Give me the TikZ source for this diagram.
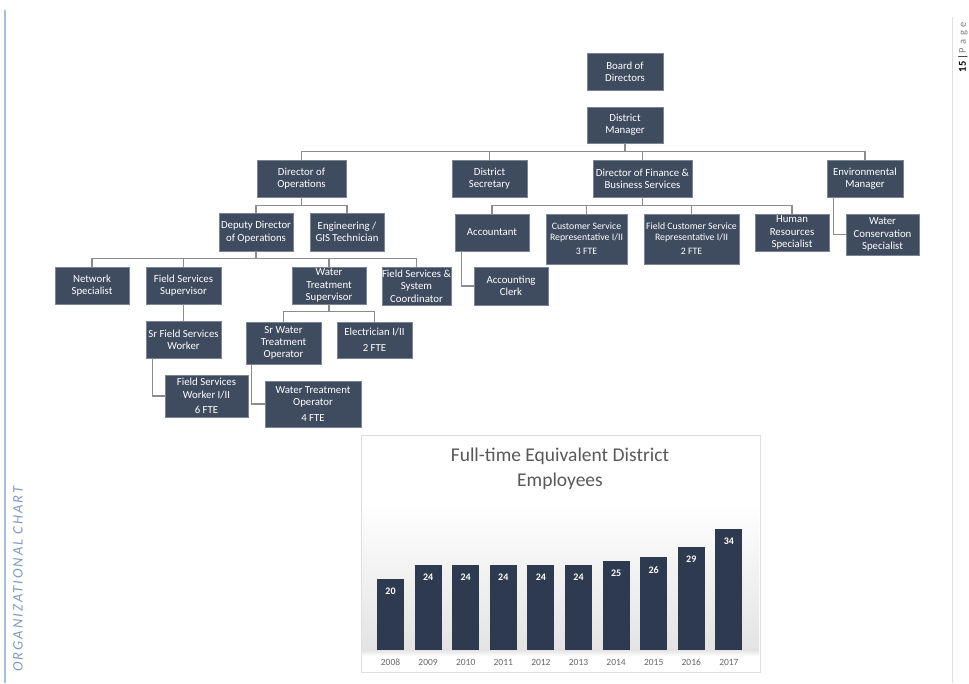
\documentclass[tikz,border=0pt]{standalone}
\usepackage{fontspec}
\setmainfont{Carlito}
\definecolor{boxfill}{HTML}{3F4B5F}
\definecolor{boxedge}{HTML}{7A8494}
\definecolor{conncol}{HTML}{8C8C8C}
\definecolor{barcol}{HTML}{2D3A4F}
\definecolor{sidecol}{HTML}{A9BED8}
\definecolor{sidetext}{HTML}{7F9AC0}
\definecolor{titlecol}{HTML}{595959}
\begin{document}
\begin{tikzpicture}[x=1pt,y=-1pt,
  box/.style={draw=boxedge,line width=0.6pt,fill=boxfill,text=white,align=center,
    inner sep=0pt,font=\fontsize{10.8}{12.3}\selectfont},
  smallbox/.style={box,font=\fontsize{9.8}{11}\selectfont},
  conn/.style={draw=conncol,line width=1.4pt},
  barlab/.style={text=white,font=\fontsize{10}{11}\selectfont\bfseries},
  yearlab/.style={text=gray!80!black,font=\fontsize{9.5}{11}\selectfont}]
\useasboundingbox (0,0) rectangle (969,683);
\fill[white] (0,0) rectangle (969,683);
% side decorations
\draw[sidecol,line width=1.5pt] (5,10) -- (5,683);
\draw[gray!25,line width=1pt] (952,17) -- (952,683);
\node[rotate=90,text=sidetext,font=\fontsize{14.5}{16}\selectfont\itshape\addfontfeature{LetterSpace=14}] (sidetitle) at (18,579) {ORGANIZATIONAL CHART};
\node[rotate=90,font=\fontsize{10.5}{11}\selectfont] (pagenum) at (963,47) {\textbf{15}\,|\,\textcolor{gray}{P\,\,a\,\,g\,\,e}};
% org chart boxes
\node[box,minimum width=76pt,minimum height=37pt] (board) at (625,71.5) {Board of\\Directors};
\node[box,minimum width=76pt,minimum height=36pt] (dm) at (625,125) {District\\Manager};
\node[box,minimum width=89pt,minimum height=37pt] (dirops) at (301.5,178.5) {Director of\\Operations};
\node[box,minimum width=75pt,minimum height=37pt] (sec) at (489.5,178.5) {District\\Secretary};
\node[box,minimum width=99pt,minimum height=37pt] (fin) at (642.5,178.5) {Director of Finance \&\\Business Services};
\node[box,minimum width=76pt,minimum height=37pt] (env) at (865,178.5) {Environmental\\Manager};
\node[box,minimum width=74pt,minimum height=37pt] (acct) at (492,232.5) {Accountant};
\node[smallbox,minimum width=81pt,minimum height=50pt] (csr) at (586.5,239) {Customer Service\\Representative I/II\\[3pt]3 FTE};
\node[smallbox,minimum width=95pt,minimum height=50pt] (fcsr) at (691.5,239) {Field Customer Service\\Representative I/II\\[3pt]2 FTE};
\node[box,minimum width=74pt,minimum height=37pt] (hr) at (792,232.5) {Human\\Resources\\Specialist};
\node[box,minimum width=73pt,minimum height=41pt] (wcs) at (882.5,234.5) {Water\\Conservation\\Specialist};
\node[box,minimum width=74pt,minimum height=38pt] (clerk) at (511,286) {Accounting\\Clerk};
\node[box,minimum width=74pt,minimum height=38pt] (deputy) at (256,232) {Deputy Director\\of Operations};
\node[box,minimum width=74pt,minimum height=38pt] (eng) at (347,232) {Engineering /\\GIS Technician};
\node[box,minimum width=74pt,minimum height=37pt] (net) at (92,285.5) {Network\\Specialist};
\node[box,minimum width=75pt,minimum height=37pt] (fss) at (183.5,285.5) {Field Services\\Supervisor};
\node[box,minimum width=74pt,minimum height=37pt] (wts) at (329,285.5) {Water\\Treatment\\Supervisor};
\node[box,minimum width=67pt,minimum height=38pt] (fssc) at (416.5,286) {Field Services \&\\System\\Coordinator};
\node[box,minimum width=75pt,minimum height=37pt] (srfsw) at (183.5,339.5) {Sr Field Services\\Worker};
\node[box,minimum width=83pt,minimum height=42pt] (fsw) at (206.5,396) {Field Services\\Worker I/II\\[3pt]6 FTE};
\node[box,minimum width=75pt,minimum height=42pt] (srwto) at (283.5,343) {Sr Water\\Treatment\\Operator};
\node[box,minimum width=75pt,minimum height=36pt] (elec) at (374.5,340) {Electrician I/II\\[4pt]2 FTE};
\node[box,minimum width=96pt,minimum height=46pt] (wto) at (313,404) {Water Treatment\\Operator\\[3pt]4 FTE};
% connectors
\foreach \c in {dirops,sec,fin,env} \draw[conn] (\c.north) -- ++(0,-8) -| (dm.south);
\foreach \c in {acct,csr,fcsr,hr} \draw[conn] (\c.north) -- ++(0,-8.3) -| (fin.south);
\foreach \c in {deputy,eng} \draw[conn] (\c.north) -- ++(0,-7.3) -| (dirops.south);
\foreach \c in {net,fss,wts,fssc} \draw[conn] (\c.north) -- ++(0,-8) -| (deputy.south);
\foreach \c in {srwto,elec} \draw[conn] (\c.north) -- ++(0,-10) -| (wts.south);
\draw[conn] (fss.south) -- (srfsw.north);
\draw[conn] ([xshift=7pt]env.south west) |- (wcs.west);
\draw[conn] ([xshift=7pt]acct.south west) |- (clerk.west);
\draw[conn] ([xshift=7pt]srfsw.south west) |- (fsw.west);
\draw[conn] ([xshift=6pt]srwto.south west) |- (wto.west);
% chart
\node[draw=gray!25,line width=0.8pt,fill=white,minimum width=399pt,minimum height=237pt,inner sep=0pt] (chartframe) at (560.5,553.5) {};
\shade[top color=white,bottom color=gray!22] (362,500) rectangle (759,650);
\shade[top color=gray!22,bottom color=white] (362,650) rectangle (759,656);
\fill[white] (362,656) rectangle (759,671);
\node[text=titlecol,align=center,font=\fontsize{19.5}{25}\selectfont] (charttitle) at (560,469) {Full-time Equivalent District\\Employees};
\foreach \v/\yr [count=\i from 0] in {20/2008,24/2009,24/2010,24/2011,24/2012,24/2013,25/2014,26/2015,29/2016,34/2017}{
  \pgfmathsetmacro{\cx}{390.5+37.6*\i}
  \pgfmathsetmacro{\ty}{650-3.56*\v}
  \fill[barcol] (\cx-13.5,\ty) rectangle (\cx+13.5,650);
  \node[barlab] (bar\yr) at (\cx,\ty+12.7) {\v};
  \node[yearlab] (yr\yr) at (\cx,662) {\yr};
}
\end{tikzpicture}
\end{document}
